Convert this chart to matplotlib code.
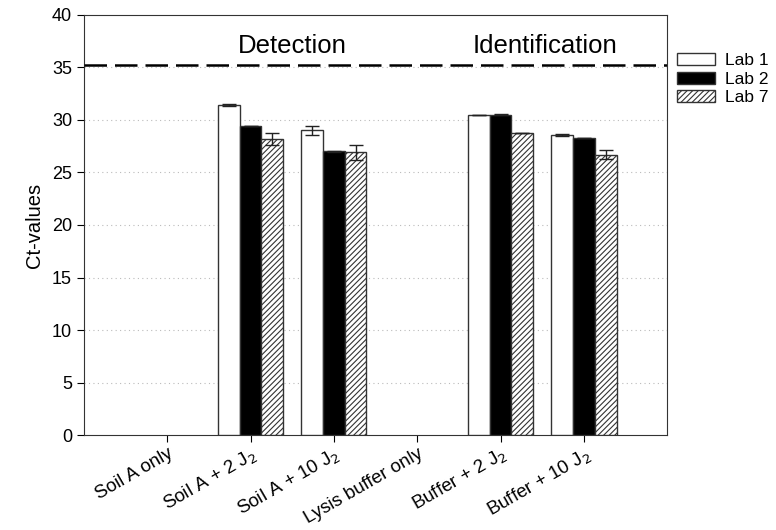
import numpy as np
import matplotlib
matplotlib.use("Agg")
from matplotlib import pyplot as plt

plt.rcParams["font.family"] = ["Liberation Sans", "DejaVu Sans"]
plt.rcParams["hatch.linewidth"] = 0.8

# 分类和数据
categories = ["Soil A only", "Soil A + 2 J$_2$", "Soil A + 10 J$_2$",
              "Lysis buffer only", "Buffer + 2 J$_2$", "Buffer + 10 J$_2$"]
labs = ["Lab 1", "Lab 2", "Lab 7"]
lab1 = [0, 31.4, 29.0, 0, 30.5, 28.6]
lab2 = [0, 29.4, 27.0, 0, 30.5, 28.3]
lab7 = [0, 28.2, 26.9, 0, 28.8, 26.7]
lab1_err = [0, 0.1, 0.4, 0, 0, 0.1]
lab2_err = [0, 0, 0.05, 0, 0.05, 0]
lab7_err = [0, 0.55, 0.7, 0, 0, 0.45]
cutoff = 35.2

fig = plt.figure(figsize=(7.76, 5.30), dpi=100)
ax = fig.add_axes([0.108, 0.179, 0.752, 0.793])

x = np.arange(len(categories))
w = 0.26
styles = [dict(color="white", hatch=None), dict(color="black", hatch=None),
          dict(color="white", hatch="//////")]
for i, (vals, errs, st) in enumerate(zip([lab1, lab2, lab7], [lab1_err, lab2_err, lab7_err], styles)):
    vals = np.array(vals, dtype=float)
    errs = np.array(errs, dtype=float)
    # 0 表示没有数据，不画柱子
    keep = vals > 0
    pos = x[keep] + (i - 1) * w
    ax.bar(pos, vals[keep], w, color=st["color"], edgecolor="#333333", linewidth=1.0,
           hatch=st["hatch"], label=labs[i], zorder=3)
    ax.errorbar(pos, vals[keep], yerr=errs[keep], fmt="none", ecolor="#222222",
                elinewidth=1, capsize=5, capthick=1, zorder=4)

ax.axhline(cutoff, color="black", linestyle=(0, (9, 3.2)), linewidth=1.8, zorder=5)
ax.text(1.5, 37.0, "Detection", ha="center", va="center", fontsize=18.5)
ax.text(4.53, 37.0, "Identification", ha="center", va="center", fontsize=18.5)

ax.set_xlim(-1, 6)
ax.set_ylim(0, 40)
ax.set_yticks(range(0, 41, 5))
for yy in range(5, 40, 5):
    ax.axhline(yy, color="#bbbbbb", linestyle=(0, (1, 3)), linewidth=0.8, zorder=1)
ax.set_xticks(x)
ax.set_xticklabels(categories, rotation=30, ha="right", rotation_mode="anchor", fontsize=13.5)
ax.tick_params(axis="y", labelsize=13, direction="out", length=5)
ax.tick_params(axis="x", direction="out", length=5, pad=2)
ax.set_ylabel("Ct-values", fontsize=14.5, labelpad=6)
for s in ax.spines.values():
    s.set_color("#333333")

fig.legend(loc="upper left", bbox_to_anchor=(0.872, 0.9), frameon=False, fontsize=12.5,
           handlelength=2.2, handleheight=0.7, labelspacing=0.2, handletextpad=0.6,
           borderaxespad=0, borderpad=0)

plt.savefig("out.png", dpi=100)
